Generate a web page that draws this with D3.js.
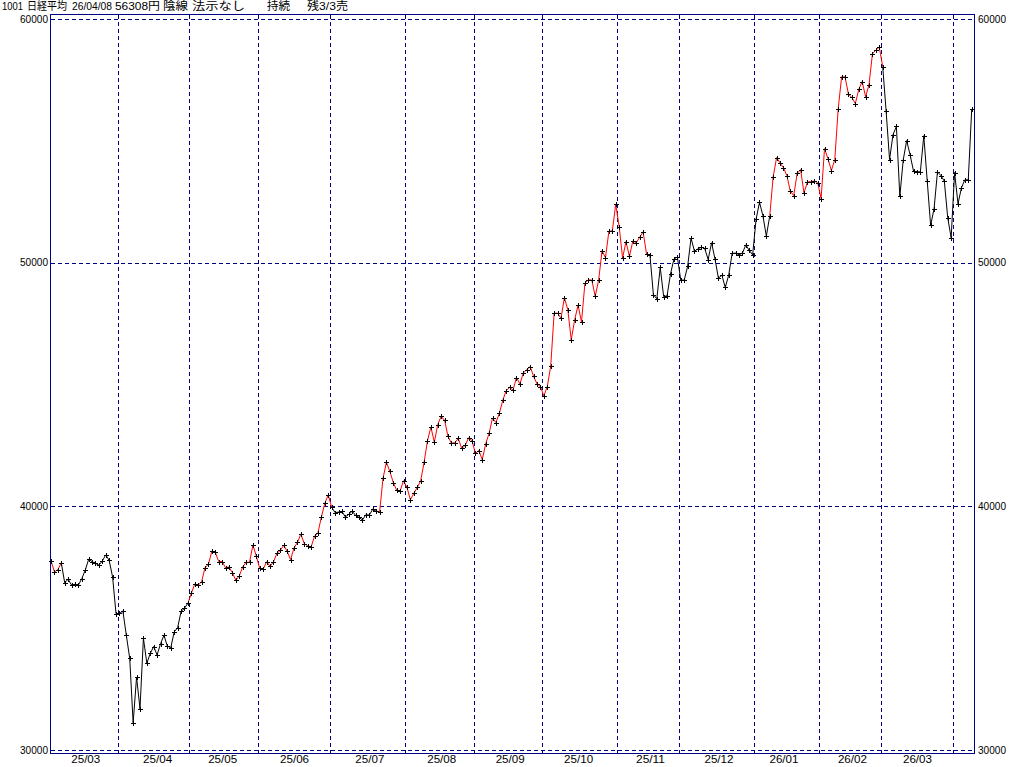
<!DOCTYPE html>
<html><head><meta charset="utf-8">
<script src="https://cdn.jsdelivr.net/npm/d3@7"></script>
<style>
html,body{margin:0;padding:0;background:#fff;}
svg{display:block;}
</style></head><body>
<svg id="c" width="1024" height="767"></svg>
<script>
// ---------- data ----------
const months = ["25/03","25/04","25/05","25/06","25/07","25/08","25/09","25/10","25/11","25/12","26/01","26/02","26/03","26/04"];
const monthDays = [20,21,20,21,22,20,20,22,18,22,19,18,21,6];      // trading days per month
const labelDay = [10,11,9,10,11,10,10,10,9,11,8,9,10,null];          // trading day (0-based) that carries the month label
const yTicks = [30000,40000,50000,60000];
const titleParts = ["1001","日経平均","26/04/08","56308円","陰線","法示なし","持続","残3/3売"];
const closes = [
// 2025/03
37785,37331,37418,37704,36887,37028,36793,36819,36790,37053,
37396,37845,37751,37677,37608,37780,38027,37799,37120,35617,
// 2025/04
35624,35725,34736,33780,31136,33012,31714,34609,33586,33982,
34267,33920,34377,34730,34280,34221,34868,35039,35705,35839,36045,
// 2025/05
36452,36831,36780,36928,37503,37644,38183,38128,37755,37753,
37498,37529,37299,36986,37160,37532,37724,37722,38433,37965,
// 2025/06
37470,37446,37747,37554,37742,38088,38211,38421,38173,37834,
38311,38537,38885,38488,38403,38355,38791,38942,39585,40151,40487,
// 2025/07
39986,39762,39785,39811,39588,39688,39821,39646,39570,39460,
39679,39663,39901,39819,39775,41171,41826,41456,40998,40675,40654,41070,
// 2025/08
40800,40291,40550,40795,41059,41820,42718,43275,42650,43378,
43714,43547,42889,42610,42633,42807,42394,42520,42829,42718,
// 2025/09
42189,42310,41939,42580,43019,43644,43460,43838,44373,44768,
44903,44790,45304,45046,45494,45630,45755,45355,45044,44933,
// 2025/10
44551,44937,45770,47945,47951,47735,48580,48089,46848,47673,
48278,47582,49186,49316,49308,48642,49300,50512,50220,51308,51326,52411,
// 2025/11
51497,50212,50883,50276,50912,50842,51063,51281,50377,50324,
48703,48537,49824,48626,48660,49559,50168,50254,
// 2025/12
49303,49303,49864,51028,50492,50582,50656,50603,50149,50837,
50168,49383,49512,49002,49507,50402,50413,50345,50408,50750,50527,50339,
// 2026/01
51800,52500,51950,51110,51940,53550,54330,54115,53920,53590,
52960,52770,53680,53840,52885,53330,53350,53370,53300,
// 2026/02
52650,54700,54290,53800,54250,56340,57650,57640,56930,56800,
56550,57130,57450,56830,57330,58590,58750,58860,
// 2026/03
58070,56240,54250,55270,55610,52740,54240,55030,54450,53780,
53750,53750,55230,53380,51550,52230,53750,53590,53370,51860,51040,
// 2026/04
53720,52440,53090,53420,53420,56308
];
// segments (into point i) that are drawn in the "buy" (red) state
const redRuns = [[1,3],[41,82],[97,175],[211,243]];

// ---------- drawing ----------
const svg = d3.select("#c");
const N = closes.length;
const navy = "#000080";
const x = d3.scaleLinear().domain([0, N-1]).range([51, 971.7]);
const y = d3.scaleLinear().domain([30000, 60000]).range([750.5, 19.5]);
const px = v => Math.round(v - 0.5) + 0.5;

const starts = []; let acc = 0;
monthDays.forEach(d => { starts.push(acc); acc += d; });

// gridlines
const grid = svg.append("g").attr("stroke", navy).attr("stroke-width", 1)
  .attr("stroke-dasharray", "4,3").attr("shape-rendering", "crispEdges").attr("fill","none");
yTicks.forEach(t => {
  grid.append("line").attr("x1", 51).attr("x2", 974).attr("y1", px(y(t))).attr("y2", px(y(t)));
});
starts.slice(1).forEach(s => {
  const gx = px(x(s) - 1.4);
  grid.append("line").attr("x1", gx).attr("x2", gx).attr("y1", 15).attr("y2", 753);
});

// frame
svg.append("rect").attr("x", 50.5).attr("y", 14.5).attr("width", 924).attr("height", 739)
  .attr("fill", "none").attr("stroke", navy).attr("stroke-width", 1).attr("shape-rendering", "crispEdges");

// axes labels
const fontFam = '"Liberation Sans","Noto Sans CJK JP",sans-serif';
function styleAxis(g) {
  g.attr("font-family", fontFam).attr("font-size", 11);
  g.select(".domain").remove();
  g.selectAll("line").remove();
  g.selectAll("text").attr("fill", "#000");
}
const gL = svg.append("g").attr("transform", "translate(49,-1)")
  .call(d3.axisLeft(y).tickValues(yTicks).tickSize(0).tickPadding(1).tickFormat(d => String(d)));
styleAxis(gL);
gL.selectAll("text").attr("textLength", 28).attr("lengthAdjust", "spacingAndGlyphs");

const gR = svg.append("g").attr("transform", "translate(977,-1)")
  .call(d3.axisRight(y).tickValues(yTicks).tickSize(0).tickPadding(1).tickFormat(d => String(d)));
styleAxis(gR);
gR.selectAll("text").attr("textLength", 28).attr("lengthAdjust", "spacingAndGlyphs");

const labelIdx = [], labelTxt = {};
months.forEach((m, k) => { if (labelDay[k] !== null) { const i = starts[k] + labelDay[k]; labelIdx.push(i); labelTxt[i] = m; } });
const gB = svg.append("g").attr("transform", "translate(0,753)")
  .call(d3.axisBottom(x).tickValues(labelIdx).tickSize(0).tickFormat(i => labelTxt[i]));
styleAxis(gB);
gB.selectAll("text").attr("y", 10).attr("dy", 0).attr("textLength", 29).attr("lengthAdjust", "spacingAndGlyphs");

// title
const titleLayout = [[2,21],[27,40],[72,40],[115,45],[163,25],[192,53],[267,23],[307,41]];
const tg = svg.append("g").attr("font-family", fontFam).attr("font-size", 11.5).attr("fill", "#000");
titleParts.forEach((t, k) => {
  tg.append("text").attr("x", titleLayout[k][0]).attr("y", 10)
    .attr("textLength", titleLayout[k][1]).attr("lengthAdjust", "spacingAndGlyphs").text(t);
});

// line, coloured by state
const isRed = i => redRuns.some(r => i >= r[0] && i <= r[1]);
const runs = [];
for (let i = 1; i < N; i++) {
  const c = isRed(i) ? "#ff0000" : "#000000";
  if (runs.length && runs[runs.length-1].c === c) runs[runs.length-1].pts.push(i);
  else runs.push({c, pts: [i-1, i]});
}
const line = d3.line().x(i => x(i)).y(i => y(closes[i]));
svg.append("g").attr("fill", "none").attr("stroke-width", 1)
  .selectAll("path").data(runs).join("path")
  .attr("stroke", d => d.c).attr("d", d => line(d.pts));

// "+" markers
svg.append("g").attr("stroke", "#000").attr("stroke-width", 1).attr("shape-rendering", "crispEdges")
  .selectAll("path").data(closes).join("path")
  .attr("d", (v, i) => {
    const cx = Math.round(x(i)), cy = Math.round(y(v));
    return `M${cx-2},${cy+0.5}H${cx+3}M${cx+0.5},${cy-2}V${cy+3}`;
  });
</script>
</body></html>
